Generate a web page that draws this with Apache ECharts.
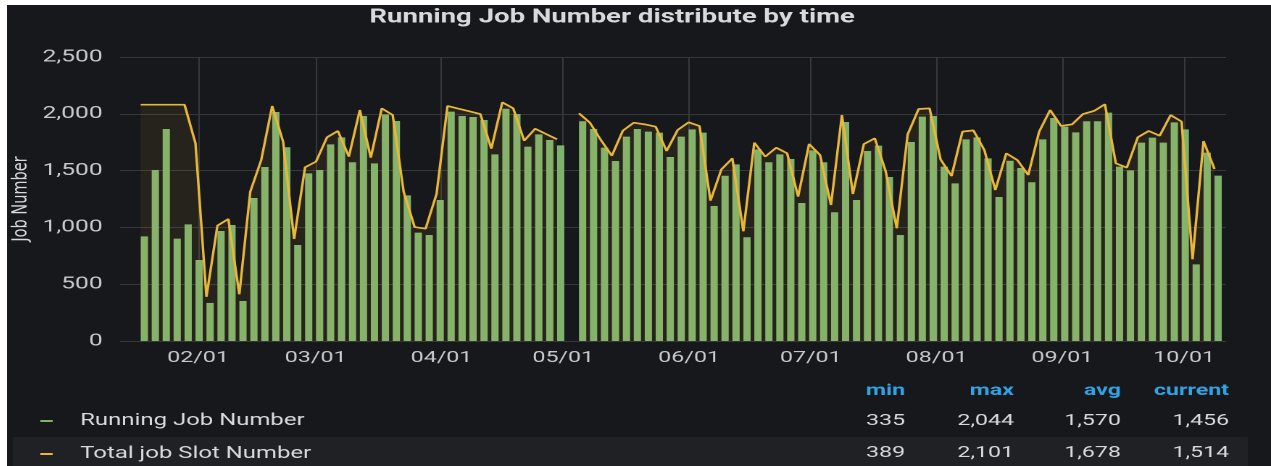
<!DOCTYPE html>
<html>
<head>
<meta charset="utf-8">
<script src="https://cdn.jsdelivr.net/npm/echarts@6/dist/echarts.min.js"></script>
<style>
  html, body { margin: 0; padding: 0; background: #fff; overflow: hidden; }
  #main {
    position: absolute; left: 7px; top: 5px;
    width: 872px; height: 461px;
    transform-origin: 0 0;
    transform: scaleX(1.44954);
  }
</style>
</head>
<body>
<div id="main"></div>
<script>
// sampling: first point and step between points (Grafana interval)
const startTime = new Date(2020, 0, 17, 21).getTime();
const stepMs = 64.8 * 3600 * 1000;
const barShift = 21.6 * 3600 * 1000; // bars are left-aligned on their point

const runningJobs = [
  921, 1505, 1866, 901, 1027, 713, 335, 968, 1021, 352,
  1259, 1532, 2016, 1705, 845, 1476, 1505, 1731, 1793, 1573,
  1981, 1564, 1995, 1937, 1282, 954, 933, 1241, 2019, 1981,
  1972, 1945, 1643, 2044, 1998, 1711, 1819, 1769, 1722, null,
  1934, 1866, 1702, 1584, 1799, 1866, 1843, 1834, 1620, 1799,
  1863, 1834, 1188, 1455, 1555, 913, 1687, 1573, 1643, 1602,
  1215, 1678, 1573, 1133, 1928, 1241, 1673, 1720, 1444, 933,
  1752, 1975, 1981, 1535, 1388, 1775, 1793, 1608, 1268, 1587,
  1523, 1397, 1775, 1963, 1887, 1837, 1934, 1934, 2010, 1535,
  1502, 1746, 1790, 1746, 1925, 1863, 675, 1658, 1456
];

const totalSlots = [
  2080, 2080, 2080, 2080, 2080, 1740, 389, 1015, 1074, 411,
  1314, 1593, 2069, 1754, 898, 1529, 1579, 1793, 1849, 1623,
  2033, 1614, 2048, 1989, 1314, 1003, 989, 1294, 2069, 2045,
  2022, 1998, 1693, 2101, 2048, 1763, 1869, 1822, 1775, null,
  2004, 1922, 1769, 1631, 1851, 1922, 1907, 1887, 1673, 1857,
  1925, 1893, 1235, 1511, 1608, 966, 1746, 1623, 1702, 1652,
  1271, 1734, 1637, 1197, 1989, 1294, 1734, 1784, 1491, 992,
  1819, 2042, 2048, 1599, 1452, 1843, 1854, 1681, 1329, 1652,
  1593, 1461, 1843, 2033, 1893, 1907, 1998, 2025, 2084, 1564,
  1526, 1793, 1849, 1807, 1989, 1931, 719, 1760, 1514
];

const seriesNames = ['Running Job Number', 'Total job Slot Number'];
const statHeaders = ['min', 'max', 'avg', 'current'];
const runningStats = ['335', '2,044', '1,570', '1,456'];
const totalStats = ['389', '2,101', '1,678', '1,514'];

const times = runningJobs.map((v, i) => startTime + i * stepMs);
const xMin = new Date(2020, 0, 12, 19).getTime();
const xMax = new Date(2020, 9, 11, 8).getTime();

const textColor = '#d8d9da';
const font = 'Roboto';
const statX = [619.6, 694.7, 768.5, 843.1];

const graphics = [{
  type: 'rect', z: 0,
  shape: { x: 4, y: 432, width: 852, height: 29 },
  style: { fill: '#202125' }
}];
function addRow(texts, y, color, weight) {
  texts.forEach((t, i) => {
    graphics.push({
      type: 'text', x: statX[i], y: y, z: 5,
      style: { text: t, align: 'right', verticalAlign: 'middle', fill: color,
               fontSize: 16, fontWeight: weight, fontFamily: font }
    });
  });
}
addRow(statHeaders, 386, '#33a2e5', 'bold');
addRow(runningStats, 416, textColor, 'normal');
addRow(totalStats, 448, textColor, 'normal');

const option = {
  backgroundColor: '#17181b',
  animation: false,
  title: {
    text: 'Running Job Number distribute by time',
    left: 250, top: 3, padding: 0,
    textStyle: { color: textColor, fontSize: 19, fontWeight: 'bold', fontFamily: font }
  },
  legend: {
    orient: 'vertical', left: 23, top: 406, padding: 0,
    icon: 'rect', itemWidth: 8.5, itemHeight: 2, itemGap: 13,
    data: seriesNames,
    textStyle: { color: textColor, fontSize: 16.5, fontFamily: font, lineHeight: 20, padding: [0, 0, 0, 14] }
  },
  grid: { left: 78, right: 31, top: 52, bottom: 125, outerBoundsMode: 'none', containLabel: false },
  xAxis: [{
    type: 'time',
    min: xMin,
    max: xMax,
    splitNumber: 9,
    axisLine: { show: false },
    axisTick: { show: false },
    axisLabel: {
      color: '#c7c9cc', fontSize: 16, fontFamily: font, margin: 9,
      formatter: function (value) {
        const d = new Date(value);
        if (d.getDate() !== 1 || d.getHours() !== 0) return '';
        const m = d.getMonth() + 1;
        return (m < 10 ? '0' + m : m) + '/01';
      }
    },
    splitLine: { show: true, showMinLine: false, showMaxLine: false, lineStyle: { color: '#37383c' } }
  }, {
    // same range, carries the bars so the time axis is not padded for them
    type: 'value', show: false, min: xMin, max: xMax,
    splitLine: { show: false }
  }],
  yAxis: {
    type: 'value', min: 0, max: 2500, interval: 500,
    name: 'Job Number', nameLocation: 'middle', nameGap: 61, nameMoveOverlap: false,
    nameTextStyle: { color: textColor, fontSize: 14.5, fontFamily: 'DejaVu Sans' },
    axisLine: { show: false },
    axisTick: { show: false },
    axisLabel: {
      color: '#c7c9cc', fontSize: 17, fontFamily: font, margin: 12,
      formatter: v => v.toLocaleString('en-US')
    },
    splitLine: { lineStyle: { color: '#37383c' } }
  },
  series: [
    {
      name: seriesNames[0],
      type: 'bar',
      xAxisIndex: 1,
      barWidth: 5,
      itemStyle: { color: '#7eb26d' },
      z: 2,
      data: runningJobs.map((v, i) => [times[i] + barShift, v])
    },
    {
      name: seriesNames[1],
      type: 'line',
      xAxisIndex: 0,
      symbol: 'none',
      connectNulls: false,
      z: 3,
      itemStyle: { color: '#eab839' },
      lineStyle: { color: '#eab839', width: 1.7 },
      areaStyle: { color: 'rgba(234,184,57,0.1)' },
      data: totalSlots.map((v, i) => [times[i], v])
    }
  ],
  graphic: graphics
};

const chart = echarts.init(document.getElementById('main'), null, { devicePixelRatio: 2 });
chart.setOption(option);
</script>
</body>
</html>
